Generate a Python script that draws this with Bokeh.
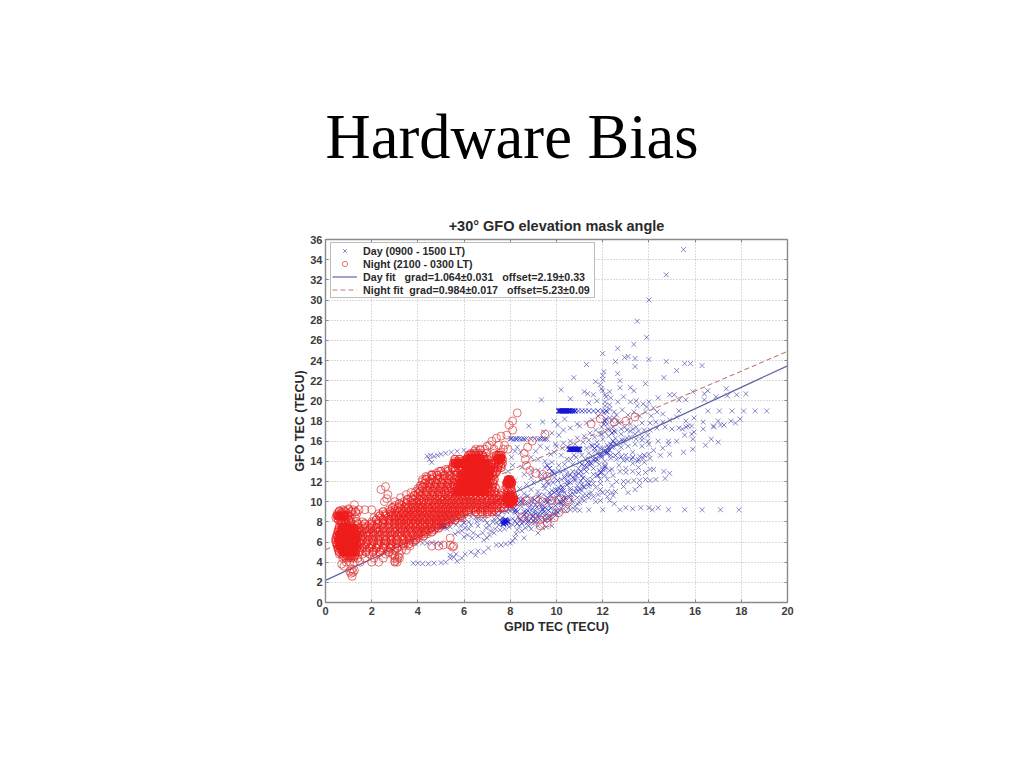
from bokeh.plotting import figure
from bokeh.models import Legend, LegendItem, LinearAxis, Range1d, FixedTicker, Title
from bokeh.embed import file_html
from bokeh.resources import INLINE

x_ticks = [0, 2, 4, 6, 8, 10, 12, 14, 16, 18, 20]
y_ticks = list(range(0, 37, 2))

fit_x = [0, 20]
day_fit_y = [2.19, 23.47]
night_fit_y = [5.23, 24.91]

day_sparse = [(15.5,35),(14.75,32.5),(14,30),(13.5,27.9),(13.9,26.3),(13.35,25.6),(12.65,25.2),(12,24.7),(12.55,23.9),(12.95,24.3),(13.1,24.4),(13.4,24.2),(14,24.1),(14.75,23.9),(15.55,23.7),(15.8,23.7),(16.3,23.5),(11.3,23.6),(13.4,23.4),(15.2,23),(10.75,22.3),(12.05,22.9),(12.0,22.5),(12.65,22.7),(14.65,22.3),(12.0,22.1),(12.75,22),(13.85,21.7),(11.7,21.9),(11.9,21.6),(11.95,21.2),(10.2,21.1),(11.2,20.9),(11.35,20.7),(11.6,20.6),(13.2,21.3),(13.35,21),(12.75,21.3),(12.3,20.9),(17.35,21.2),(16.55,21),(16.4,20.7),(16.9,20.4),(15.9,20.9),(17.4,20.5),(17.8,20.6),(18.2,20.7),(14.9,20.6),(15.1,20.6),(14.4,20.3),(16.4,20.1),(15.3,20.1),(15.6,20.1),(9.35,20.1),(10.6,20.2),(16.55,19),(17.05,19),(17.6,19),(18.1,19),(18.6,19),(19.1,19),(15.3,19),(16.35,17.9),(16.8,17.5),(17,18),(17.55,18),(17.95,18.2),(15.95,18.3),(15.6,18),(15.2,18.4),(14.9,18.1),(14.6,17.9),(14.3,17.9),(14.05,17.8),(16.35,17.2),(16.8,17.4),(17.1,17.6),(17.25,17.6),(17.75,17.8),(15.6,17.4),(15.7,17.5),(15.85,17.5),(15.45,17.2),(15.3,17.3),(15,17.2),(14.7,17.4),(14.35,17.3),(14.05,17.1),(16.45,15.6),(16.7,16.2),(17,15.9),(15.9,16.2),(15.55,16.6),(15.85,16.7),(15.95,16.9),(15.2,16),(14.85,16),(14.4,16),(14.6,15.3),(14.85,15.7),(15.9,15.2),(15.5,14.9),(14.9,14.7),(14.5,14.6),(14.2,13.2),(14.65,13),(14.9,12.8),(14.7,12.3),(14.3,12.2),(10.6,9.2),(10.8,9.2),(11,9.15),(11.4,9.2),(12,9.2),(12.75,9.2),(13,9.4),(13.3,9.3),(13.65,9.4),(14,9.4),(14.15,9.2),(14.4,9.4),(14.85,9.2),(15.55,9.2),(16.3,9.2),(17.1,9.2),(17.9,9.2),(12.5,9.8),(11.7,10),(11.9,10.1),(12.3,10.1),(12.45,10.6),(12.55,11),(12.4,11.6),(12.6,12),(12.9,12),(13.1,12),(13.35,12.1),(13.6,12.1),(13.85,12.2),(14.05,12.1),(13.6,11.6),(13.4,11.2),(13.1,10.9),(12.9,11.5),(9.8,7.6),(9.7,8.1),(9.2,6.9),(8.6,6.4)]
day_tracks = [(4.4,14.5),(4.5,14.2),(4.55,14.6),(4.7,14.5),(4.85,14.6),(5,14.7),(5.2,14.8),(5.45,14.9),(5.7,15),(6,15.1),(6.5,15.3),(4.6,13.9),(3.8,3.9),(4,3.9),(4.2,3.85),(4.45,3.85),(4.7,3.9),(5,3.95),(5.2,4),(5.4,4.4),(5.55,4.5),(5.7,4.1),(5.9,4.4),(6.05,4.8),(6.3,5),(6.5,4.7),(6.6,5.1),(6.85,5),(7.05,5.4),(5.4,4.7),(5.65,4.8),(3.9,5.8),(4.2,5.9),(4.4,5.9),(4.6,5.9),(4.8,5.9),(5,5.8),(7,6.4),(7.4,5.7),(7.6,5.7),(7.8,5.8),(8,5.9),(8.1,6.1),(8.2,6.4),(8.25,6.8),(8.3,7.2),(8.4,7.6),(8.6,8),(8.8,8.1),(4.8,7.4),(5,7.5),(5.1,7.7),(5.25,7.3),(5.3,7.9),(5.5,8.1),(5.6,6.8),(5.75,7),(5.9,7.1),(6,6.5),(6.2,7.3),(6.4,6.9),(6.6,7.6),(6.8,6.9),(6.2,8),(6.5,8.4),(6.9,8.2),(7.1,7.6),(7.25,8),(7.4,7.9),(7.5,7.7),(7.6,8),(7.55,8.2),(7.7,7.8),(7.65,8.4),(7.8,7.9),(7.85,9),(8,9.1),(8.1,9.2),(8.2,8.9),(8.9,8.3),(9,8.6),(9.1,8.3),(9.3,8.7),(9.5,8.6),(8,16.25),(8.15,16.2),(8.3,16.25),(8.5,16.2),(8.7,16.25),(8.9,16.2),(9.05,16.25),(9.2,16.2),(9.4,16.25),(9.6,16.2),(8.3,15.4),(8.45,14.9),(8.2,15),(8.05,14.4),(9.3,15.5),(9.6,15.3),(9.75,14.7),(9.2,14.2),(9.5,14),(8.9,13.1),(9.7,13.3),(9.95,15.7),(10.1,16.6),(10.3,17.1),(10.6,17.3),(10.9,17.7),(8.8,17.5),(9.4,17.9),(9.9,18),
(5.35,8.3),(5.6,8.4),(5.85,7.6),(6.05,7.4),(6.3,7.7),(6.55,8),(6.75,8.2),(6.95,7.4),(7.15,7.1),(7.35,7.3),(7.55,7.2),(7.75,7.3),(7.95,7.5),(8.1,7.7),(6.15,6.7),(6.35,6.4),(6.6,6.6),(6.85,6.2),(7.1,6.7),(7.3,6.9)]
day_bars = [(10.1,19),(10.15,19),(10.2,19),(10.25,19),(10.3,19),(10.35,19),(10.4,19),(10.45,19),(10.5,19),(10.55,19),(10.6,19),(10.7,19),(10.8,19),(10.55,15.2),(10.6,15.2),(10.65,15.2),(10.7,15.2),(10.75,15.2),(10.8,15.2),(10.85,15.2),(10.9,15.2),(10.95,15.2),(11,15.2),(7.7,8),(7.75,8.1),(7.8,8.2),(7.85,8.1),(7.9,8),(7.7,7.8),(7.8,7.9),(5,7.6),(5.05,7.55),(5.1,7.6),(5.15,7.65)]
day_streaks = [(10.95,19),(11.1,19),(11.25,19),(11.4,19),(11.6,19),(11.8,19),(12,19),(12.15,19),(9.6,13.6),(9.7,13.3),(9.8,13),(9.9,12.8),(8.2,9.1),(8.25,9.2),(8.3,9),(6,7.9),(12.2,14.9),(12.3,15.1),(12.15,14.8),(12.4,16.8),(12.5,17),(12.05,17.7),(12.1,18),(12.15,18.2),(8.05,16.25),(8.25,16.2),(8.4,16.25),(8.6,16.2),(9.3,16.25),(9.5,16.2),(11.55,15.5),(11.65,15.3),(11.75,15.5),(10.2,9.9),(10.3,10.1),(8.6,9),(8.7,8.9),(9.4,9.2),(9.5,9.4),(10.1,10.8),(10.2,11.1),(11.05,12.05),(11.15,12.35),(11.8,12.6),(11.9,12.85),(12,13.2),(12.1,13.45),(12.35,15.7),(12.45,16),
(8.9,9.7),(9.05,10.2),(9.25,10.6),(8.55,10.3),(8.75,10.55),(9.6,10.4),(9.75,10.65),(9.9,10.9),(10.05,11.15),(10.25,11.4),(10.45,11.65),(10.6,11.9),(10.8,12.1),(9.45,11.6),(9.65,11.75),(9.85,11.9),(10.05,12.1),(8.75,9.1),(8.95,9.3),(9.15,9.45),(9.35,9.75),(9.55,10.1),(9.75,9.35),(9.95,9.6),(10.15,9.95),(10.4,10.4),(10.6,10.7),(10.8,11),(11,11.25),(11.2,11.45),(11.4,11.75),(8.2,8.1),(8.45,8.2),(8.7,8.45),(8.95,8.55),(9.2,8.7),(9.45,8.95),(9.65,9.15),(8.3,7.8),(8.5,7.85),(8.75,7.95),(9,8.1),(9.25,8.35),(9.5,8.1),(9.7,8.45),(9.9,8.75),(10.05,8.95),(7.4,8.8),(7.65,9),(7.9,9.3),(8.1,9.5),(8.3,9.7),(8.5,9.9),(10.35,12.4),(10.6,12.65),(10.85,12.6),(11.05,13),(11.3,13.45),(11.5,13.8),(11.75,14.2),(11.95,14.55),(12.15,15),(12.4,15.4),(12.6,15.7),(12.85,16.1),(11.1,13.7),(11.35,13.9),(11.6,14.15),(11.85,14.6),(12.05,15),(12.25,15.35),(12.55,14.6),(12.8,14.45),(13.05,14.2),(13.3,14.4),(13.55,14.15),(13.8,14.6)]
day_core = [
(8.3,10.5),(8.6,10.8),(8.9,11.2),(9.2,11),(9.5,11.3),(9.8,11.1),(10.1,11.4),(10.3,11.1),(10.6,11.3),(10.9,11.6),(11.1,11.1),(11.4,11.5),(11.7,11.4),(11.9,11.8),
(8.5,9.5),(8.8,9.4),(9.1,9.7),(9.4,9.3),(9.7,9.6),(9.9,9.2),(10.2,9.7),(10.4,9.5),(10.7,10),(10.9,9.8),(11.1,10.3),(11.3,10.6),(11.5,10.9),
(9,8.9),(9.3,9),(9.6,8.8),(9.85,8.4),(10,8.7),(10.15,9.1),(10.35,9.8),(10.55,10.4),(10.75,10.7),(10.95,11),(11.15,11.5),(11.35,11.9),(11.55,12.2),(11.75,12.6),(11.95,12.9),
(8.4,11.3),(8.7,11.7),(9,11.9),(9.3,12.2),(9.6,12),(9.9,12.4),(10.2,12.2),(10.5,12.5),(10.8,12.3),(11.1,12.6),(11.3,13),(11.6,13.3),(11.85,13.7),(12.1,14),(12.35,14.3),
(8.6,12.7),(8.9,12.4),(9.2,13.1),(9.5,13.4),(9.8,13.9),(10.1,13.6),(10.4,13.2),(10.7,13.7),(11,13.9),(11.25,14.2),(11.55,14.5),(11.8,14.9),(12,15.3),(12.2,15.6),(12.5,15.8),
(9.9,14.9),(10.2,14.6),(10.45,14.2),(10.75,14.6),(11,15),(11.3,15.3),(11.5,15.6),(11.75,15.9),(12,16.2),(12.25,16.5),(12.55,16.3),(12.8,16.7),(13.05,16.3),
(10.3,15.8),(10.6,16),(10.9,16.3),(11.2,16.5),(11.45,16.8),(11.7,17.1),(11.95,17.4),(12.2,17.7),(12.45,17.4),(12.7,17.8),(12.95,17.4),(13.2,17.7),(13.45,17.4),(13.7,17.8),
(11,17.5),(11.3,17.8),(11.55,18.1),(11.8,18.5),(12.05,18.8),(12.3,19.2),(12.6,18.6),(12.85,19.1),(13.1,18.6),(13.35,18.9),(13.6,18.5),(13.85,18.9),(14.1,18.5),(14.35,18.9),(14.6,18.7),
(11.4,19.8),(11.75,20),(12.1,19.9),(12.35,20.3),(12.65,19.9),(12.9,20.4),(13.2,19.9),(13.45,20),(13.75,19.7),(14,19.9),(14.2,19.3),(13.9,19.4),(13.5,19.5),
(12.1,13.6),(12.4,13.2),(12.7,13.6),(13,13.3),(13.3,13.8),(13.55,13.4),(13.8,13.9),(14.05,14.3),(13.6,14.5),(13.3,14.9),(13,14.6),(12.7,14.9),(12.8,15.4),(13.1,15.5),(13.4,15.7),(13.7,15.5),(14,15.7),(14.2,15.1),
(12.2,12.2),(12.45,12.6),(12.2,11),(11.9,11.2),(11.6,11.8),(11.9,12.2),(12.1,12.6),(12.3,13.1),(13.7,16.4),(13.95,16.6),(13.4,16.7),(13.2,17),(12.9,15.9),(12.3,18.3),(12.5,18.9),(12.1,19.5),
(8,10.8),(7.6,10.4),(7.3,10),(7.8,11.5),(8.2,12.1),(8.5,13.4),(7.9,13),(8.1,13.6),(8.9,14.4),(9.1,15),(9.45,16.9),(9.8,16.8),(10.05,17.6),(10.35,18.2),(9.7,10.2),(10,10.4),(10.3,10.5),(10.5,11.9),(10.85,12.9),(11.4,14.8),(10.8,15.7),
]
day_extra = [
(7.9,9.6),(8.15,9.8),(8.4,9.9),(8.7,10),(8.95,10.3),(9.2,10.5),(9.45,10.7),(9.7,10.9),(9.95,11.2),(10.2,11.6),(10.45,12),(10.7,12.4),(10.95,12.8),(11.2,13.2),(11.45,13.6),(11.7,14),(11.95,14.4),(12.2,14.8),
(8.1,8.3),(8.35,8.5),(8.6,8.7),(8.85,8.9),(9.1,9.1),(9.35,9.5),(9.6,9.9),(9.85,10.3),(10.1,10.6),(10.35,10.9),(10.6,11.1),(10.85,11.3),(11.1,11.7),(11.35,12.2),(11.6,12.7),(11.85,13.1),(12.1,13.2),
(9.1,8),(9.3,8.2),(9.5,8.3),(9.65,8.5),(9.8,8.8),(10,9.1),(10.2,9.35),(10.4,9.1),(10.6,9.6),(10.8,9.5),(11,9.9),(11.2,10.1),(11.4,10.4),(11.6,10.5),(11.8,10.7),(12,10.9),(12.2,10.5),(12.4,10.9),
(8.9,10),(9.15,10),(9.4,10.1),(9.65,10),(9.9,10),(10.15,10.1),(10.4,10.2),(10.65,10.2),(10.9,10.4),(11.15,10.6),(11.4,10.8),
(10.2,12.9),(10.45,12.8),(10.7,13),(10.95,13.3),(11.2,13.5),(11.45,13.9),(11.7,14.3),(11.95,14.7),(12.2,15.2),(12.45,15.5),(12.7,15.9),(12.95,16.1),(13.2,16.4),(13.45,16.2),(13.7,16.1),(13.95,16),
(12.3,17.1),(12.55,16.9),(12.8,17.2),(13.05,17.1),(13.3,17.2),(13.55,17),(13.8,17.1),(11.95,16.7),(12.1,16.9),(12.25,17.2),(12.4,18),(12.5,18.3),(12.65,18),(12.2,18.9),(12.3,19.6),(12.15,20.4),(12.1,20.6),(12,21),
(13.25,14.2),(13.5,14),(13.75,14.3),(14,14.7),(12.9,14.1),(12.6,14.2),(12.35,14.6),(12.75,13),(13,12.9),(13.3,13),(13.55,12.8),(13.85,12.9),(14.05,13.2),
(9.35,12.7),(9.6,12.6),(9.85,12.9),(10.1,13.1),(10.35,13.7),(10.6,14.2),(10.85,14.4),(11.1,14.6),(11.35,14.3),(11.65,15),(11.9,15.3),(10,15.5),(10.25,15.3),(10.5,15.4),(11.15,15.9),(11.4,16.1),(11.65,16.4),(11.9,16.7),
(8.7,9.8),(8.45,10.1),(7.7,9.3),(7.95,9.9),(7.5,9.1),(7.2,8.9),(6.9,8.7),(6.6,8.4),(6.3,8.5),(5.95,8.2),(5.65,7.7),(5.4,7.5),(7,7.9),(7.3,8.3),(7.45,8.4),(8.4,8.3),(8.7,8.2),(8.55,8.6),(9.2,7.6),(9.4,7.4),(9.55,7.5),(9,7.8),(8.8,7.6),(8.65,7.4),(8.5,7.1),(8.9,7.3),(9.1,8.8)]

night_edges = [(1.25,9.7),(1,9.3),(0.8,9.1),(0.6,9.1),(0.7,8.9),(2.4,11.2),(2.6,11.5),(2.7,10.7),(2.65,10.3),(2.55,10),(3,10),(3.25,10.4),(3.5,10.7),(3.7,10.9),(3.9,11),(4,11.3),(4.1,11.6),(4.2,12.2),(4.35,12.5),(4.6,12.7),(4.9,13),(5.2,13.2),(5.5,13.3),(5.7,13.9),(5.9,14),(6.1,14.2),(6.3,14.7),(6.45,15),(6.7,15.1),(7,15.5),(7.2,16),(7.4,16.3),(7.6,16.5),(7.85,16.6),(7.95,17.6),(8.1,18),(8.3,18.8),(8.1,17.1),(8.6,14.8),(8.65,14.2),(8.7,13.6),(8.85,13.1),(9.1,12.8),(9.4,12.7),(9.6,12.5),(8.75,15.4),(8.95,16),(9.5,16.7),(4.6,5.6),(4.9,5.6),(5.1,5.7),(5.4,5.7),(5.5,5.5),(5.55,5.6),(5.4,6.4),(3,4.1),(3.1,4.3),(3,4.6),(3.15,4.5),(1.15,2.6),(1.1,2.9),(1.05,3.1),(1.2,3),(1.25,3.2),(1.15,3.3),(0.7,3.8),(0.8,3.6),(8.4,10),(8.7,10.1),(9.1,10.2),(9.4,10),(9.8,10.1),(10.1,10.2),(10.5,10.2),(8.5,8.5),(8.9,8.3),(9.3,8.2),(9.6,8.4),(9.3,7.6),(9.6,7.9),(9.9,8.4),(10.1,8.9),(10.4,9.3),(11.5,17.7),(11.9,18.2),(12.5,17.9),(13,18),(13.4,18.4)]
night_low = [
(4.0,[0.9,1.05,1.25,1.5,2.0,2.3,3.0,3.1]),
(4.4,[0.75,0.9,1.0,1.1,1.2,1.4,1.7,2.1,2.5,3.0,3.2]),
(4.8,[0.6,0.7,0.85,1.0,1.1,1.3,1.6,1.9,2.2,2.6,2.9,3.2]),
(5.2,[0.55,0.7,0.8,0.95,1.1,1.2,1.5,1.8,2.1,2.4,2.7,3.0,3.3,3.5]),
(5.6,[0.5,0.6,0.75,0.9,1.0,1.2,1.4,1.7,2.0,2.3,2.6,2.85,3.15,3.4,3.65]),
(6.0,[0.45,0.6,0.7,0.85,1.0,1.1,1.3,1.55,1.8,2.1,2.4,2.65,2.95,3.2,3.5,3.8]),
(6.4,[0.45,0.55,0.7,0.8,0.95,1.1,1.2,1.45,1.7,2.0,2.25,2.5,2.8,3.05,3.35,3.6,3.85,4.05]),
(6.8,[0.5,0.65,0.75,0.9,1.0,1.15,1.3,1.5,1.75,1.95,2.2,2.45,2.7,2.95,3.2,3.5,3.75,4.0,4.2,4.4]),
(7.2,[0.55,0.7,0.85,1.0,1.1,1.25,1.45,1.7,1.9,2.15,2.35,2.6,2.9,3.1,3.35,3.6,3.85,4.05,4.3,4.5,4.7]),
]
night_mid = [
(7.6,[0.6,0.8,0.95,1.1,1.3,1.6,1.85,2.1,2.4,2.65,2.9,3.15,3.4,3.6,3.8,4.0,4.2,4.4,4.6,4.8,5.0]),
(8.0,[0.65,0.8,1.1,1.35,1.6,2.0,2.3,2.55,2.8,3.0,3.25,3.5,3.7,3.9,4.1,4.3,4.55,4.8,5.0,5.2,5.35]),
(8.4,[0.45,0.6,0.75,0.9,1.05,1.3,2.1,2.4,2.7,2.95,3.2,3.4,3.6,3.85,4.05,4.25,4.5,4.7,4.95,5.1,5.3,5.5,5.7,5.9]),
(8.8,[0.5,0.65,0.8,0.95,1.15,1.35,2.3,2.6,2.85,3.1,3.35,3.55,3.8,3.95,4.2,4.4,4.65,4.85,5.05,5.25,5.4,5.6,5.8,6.0,6.6,6.8,7.0]),
(9.2,[0.75,1.0,1.2,1.45,1.7,2.0,2.75,3.0,3.25,3.5,3.7,3.85,4.1,4.3,4.5,4.75,5.0,5.2,5.4,5.6,5.8,6.0,6.2,6.4,6.6,6.8,7.0,7.2]),
(9.6,[3.0,3.3,3.55,3.8,4.0,4.2,4.45,4.7,4.9,5.1,5.35,5.55,5.75,5.95,6.15,6.35,6.55,6.8,7.0,7.2,7.4]),
(10.0,[3.4,3.7,3.95,4.15,4.35,4.6,4.85,5.05,5.3,5.5,5.7,5.9,6.1,6.3,6.55,6.75,7.0,7.2,7.4,7.6,7.8,8.0,8.1]),
(10.4,[3.7,3.95,4.2,4.45,4.7,4.95,5.15,5.4,5.6,5.85,6.05,6.25,6.5,6.7,6.95,7.15,7.35,7.55,7.75,7.95,8.15]),
(10.8,[4.0,4.25,4.5,4.75,5.0,5.2,5.45,5.65,5.9,6.1,6.3,6.5,6.7,6.95,7.15,7.35,7.65,7.85,8.0]),
]
night_high = [
(11.2,[4.05,4.35,4.6,4.85,5.1,5.3,5.5,5.75,5.95,6.15,6.35,6.55,6.75,7.0,7.2,7.75,7.95,8.05]),
(11.6,[4.15,4.4,4.7,4.95,5.2,5.4,5.6,5.85,6.05,6.25,6.45,6.65,6.85,7.05,7.25]),
(12.0,[4.2,4.5,4.75,5.0,5.25,5.5,5.7,5.9,6.1,6.3,6.5,6.7,6.9,7.1,7.25]),
(12.4,[4.4,4.65,4.95,5.25,5.5,5.75,5.95,6.15,6.35,6.55,6.75,6.95,7.15]),
(12.8,[4.8,5.1,5.4,5.7,5.95,6.2,6.4,6.6,6.8,7.0,7.2,7.35]),
(13.2,[5.3,5.6,5.9,6.1,6.3,6.5,6.7,6.9,7.1,7.3,7.45]),
(13.6,[5.7,5.85,6.05,6.25,6.45,6.65,6.85,7.05,7.25,7.5,7.6]),
(14.0,[5.6,5.75,5.9,6.05,6.2,6.4,6.6,6.8,6.95,7.15,7.4,7.6]),
(14.4,[6.15,6.3,6.45,6.65,6.85,7.1,7.4,7.6]),
(14.8,[6.3,6.45,6.6,6.75,6.95,7.3,7.55]),
(15.2,[6.5,6.7,6.9,7.3,7.7,7.9]),
(15.6,[7.1,7.5,7.75]),
]
night_fill_low = [
(4.6,[0.8,0.95,1.05,1.15,1.25]),
(5.0,[0.6,0.75,0.9,1.05,1.15,1.3,1.45,1.75,2.05,2.35,2.75]),
(5.4,[0.55,0.65,0.8,0.95,1.05,1.2,1.35,1.6,1.9,2.2,2.5,2.8,3.1]),
(5.8,[0.5,0.65,0.8,0.95,1.05,1.2,1.35,1.5,1.75,2.0,2.25,2.55,2.8,3.05,3.35,3.6]),
(6.2,[0.45,0.6,0.75,0.9,1.05,1.2,1.35,1.6,1.85,2.05,2.3,2.6,2.85,3.1,3.4,3.65,3.9]),
(6.6,[0.5,0.65,0.8,0.95,1.05,1.2,1.4,1.6,1.85,2.1,2.35,2.6,2.85,3.1,3.3,3.55,3.8,4.0,4.25]),
(7.0,[0.55,0.7,0.85,1.0,1.15,1.35,1.55,1.8,2.05,2.3,2.55,2.8,3.0,3.25,3.45,3.7,3.95,4.15,4.35,4.6]),
(7.4,[0.6,0.75,0.9,1.05,1.2,1.45,1.7,1.95,2.2,2.5,2.75,3.0,3.25,3.45,3.65,3.9,4.1,4.3,4.55,4.75,4.9]),
]
night_fill_mid = [
(7.8,[0.7,0.9,1.1,1.4,1.7,2.0,2.25,2.5,2.75,3.0,3.2,3.4,3.6,3.8,4.0,4.2,4.4,4.6,4.8,5.0,5.2]),
(8.2,[0.55,0.7,0.85,1.0,2.2,2.5,2.75,3.0,3.2,3.4,3.6,3.8,4.0,4.2,4.4,4.6,4.8,5.0,5.2,5.4,5.6]),
(8.6,[0.5,0.65,0.8,0.95,2.35,2.6,2.85,3.05,3.25,3.45,3.65,3.85,4.05,4.25,4.45,4.65,4.85,5.05,5.25,5.45,5.65,5.85]),
(9.0,[0.6,0.85,1.1,1.3,2.5,2.8,3.0,3.2,3.4,3.6,3.8,4.0,4.2,4.4,4.6,4.8,5.0,5.2,5.4,5.6,5.8,6.0,6.2,6.5,6.75,7.0,7.2,7.4]),
(9.4,[2.9,3.15,3.4,3.6,3.8,4.0,4.2,4.4,4.6,4.8,5.0,5.2,5.4,5.6,5.8,6.0,6.2,6.4,6.6,6.8,7.0,7.2,7.4,7.6,7.75]),
(9.8,[3.2,3.5,3.75,3.95,4.15,4.35,4.55,4.75,4.95,5.15,5.35,5.55,5.75,5.95,6.15,6.35,6.55,6.75,6.95,7.15,7.35,7.55,7.75,7.95,8.1]),
(10.2,[3.55,3.8,4.05,4.25,4.5,4.75,4.95,5.15,5.35,5.55,5.75,5.95,6.1,6.3,6.5,6.7,6.9,7.1,7.3,7.5,7.7,7.85,8.0,8.15]),
(10.6,[3.85,4.1,4.35,4.6,4.85,5.05,5.3,5.5,5.7,5.9,6.05,6.2,6.4,6.6,6.8,7.0,7.2,7.4,7.6,7.85,8.0,8.1]),
]
night_fill_high = [
(11.0,[4.1,4.4,4.65,4.9,5.15,5.35,5.6,5.8,5.95,6.1,6.25,6.4,6.55,6.7,6.85,7.0,7.15,7.3,7.9,8.05]),
(11.4,[4.2,4.5,4.75,5.0,5.25,5.45,5.7,5.85,6.0,6.15,6.3,6.45,6.6,6.75,6.9,7.05,7.2,7.35,7.85,8.0]),
(11.8,[4.3,4.55,4.8,5.05,5.3,5.55,5.75,5.9,6.05,6.2,6.35,6.5,6.65,6.8,6.95,7.1,7.25,7.85,7.95,8.05]),
(12.2,[4.35,4.6,4.85,5.1,5.35,5.6,5.8,5.95,6.1,6.25,6.4,6.55,6.7,6.85,7.0,7.15,7.3]),
(12.6,[4.6,4.85,5.15,5.4,5.65,5.85,6.05,6.2,6.35,6.5,6.65,6.8,6.95,7.1,7.25]),
(13.0,[5.0,5.3,5.6,5.85,6.05,6.2,6.35,6.5,6.65,6.8,6.95,7.1,7.25,7.4]),
(13.4,[5.5,5.75,5.95,6.1,6.25,6.4,6.55,6.7,6.85,7.0,7.15,7.3,7.45,7.6]),
(13.8,[5.55,5.7,5.85,6.0,6.15,6.3,6.45,6.6,6.75,6.9,7.05,7.2,7.35,7.5,7.65]),
(14.2,[5.6,5.8,6.1,6.25,6.4,6.55,6.7,6.85,7.0,7.45,7.55,7.65]),
(14.6,[6.2,6.35,6.5,6.65,6.8,7.4,7.5,7.6]),
]
night_solid = [
(5.0,[0.75,0.85,0.95,1.05,1.15,1.25]),(5.6,[0.6,0.7,0.8,0.9,1.0,1.1,1.2,1.3]),(6.2,[0.55,0.65,0.75,0.85,0.95,1.05,1.15,1.3]),(6.8,[0.6,0.7,0.8,0.9,1.0,1.1,1.2,1.35]),(7.4,[0.7,0.8,0.9,1.0,1.1,1.25]),
(8.6,[0.55,0.7,0.85]),
(10.2,[7.85,7.95,8.05,8.15]),(9.9,[7.95,8.05]),(10.5,[7.9,8.0]),(11.9,[7.85,7.95,8.05]),(12.2,[7.9,8.0]),
(11.0,[5.7,5.85,6.0,6.15,6.3,6.45,6.6,6.75,6.9]),(11.8,[5.8,5.95,6.1,6.25,6.4,6.55,6.7,6.85,7.0]),(12.6,[5.9,6.05,6.2,6.35,6.5,6.65,6.8,6.95,7.1]),(13.2,[6.1,6.25,6.4,6.55,6.7,6.85,7.0,7.15]),(13.8,[5.6,5.75,5.9,6.05,6.2,6.35,6.5,6.65,6.8,6.95]),(14.3,[6.2,6.35,6.5,6.65,7.45,7.6]),
]

def pairs(group):
    return [a for a, _ in group], [b for _, b in group]

def rows(table):
    return [x for _, xs in table for x in xs], [y for y, xs in table for _ in xs]

W, H = 1008, 752
p = figure(width=W, height=H, output_backend="svg", toolbar_location=None,
           x_range=Range1d(0, 20), y_range=Range1d(0, 36),
           min_border_left=325, min_border_right=221, min_border_top=239, min_border_bottom=150,
           background_fill_color="white", border_fill_color="white",
           x_axis_label="GPID TEC (TECU)", y_axis_label="GFO TEC (TECU)")
p.outline_line_color = "#8a8a8a"

for ax, ticks in ((p.xaxis[0], x_ticks), (p.yaxis[0], y_ticks)):
    ax.ticker = FixedTicker(ticks=ticks)
    ax.major_tick_in, ax.major_tick_out = 3, 0
    ax.minor_tick_line_color = None
    ax.axis_line_color = "#8a8a8a"
    ax.axis_line_width = 1.4
    ax.major_tick_line_color = "#8a8a8a"
    ax.major_label_text_font = "Liberation Sans"
    ax.major_label_text_font_style = "bold"
    ax.major_label_text_font_size = "11px"
    ax.major_label_text_color = "#3c3c3c"
    ax.axis_label_text_font = "Liberation Sans"
    ax.axis_label_text_font_style = "bold"
    ax.axis_label_text_font_size = "12.5px"
    ax.axis_label_text_color = "#2a2a2a"
p.xaxis[0].major_label_standoff = 4
p.yaxis[0].major_label_standoff = 3
p.xaxis[0].axis_label_standoff = 2
p.yaxis[0].axis_label_standoff = 0

for side, ticks in (("right", y_ticks), ("above", x_ticks)):
    a = LinearAxis(ticker=FixedTicker(ticks=ticks), major_tick_in=3, major_tick_out=0,
                   minor_tick_line_color=None, axis_line_color="#8a8a8a", axis_line_width=1.4,
                   major_tick_line_color="#8a8a8a", major_label_text_font_size="0px",
                   major_label_text_color=None)
    p.add_layout(a, side)

p.xgrid.ticker = FixedTicker(ticks=x_ticks)
p.ygrid.ticker = FixedTicker(ticks=y_ticks)
p.grid.grid_line_color = "#b8b8b8"
p.grid.grid_line_dash = "1 2"
p.grid.grid_line_width = 1

dx, dy = [], []
for group in (day_sparse, day_tracks, day_core, day_extra):
    a, b = pairs(group)
    dx += a
    dy += b
r_day = p.scatter(dx, dy, marker="x", size=7, line_color="#3d3fa8", line_alpha=0.62, line_width=1)
a, b = pairs(day_streaks)
p.scatter(a, b, marker="x", size=7, line_color="#2525c8", line_alpha=0.75, line_width=1)
a, b = pairs(day_bars)
p.scatter(a, b, marker="x", size=7, line_color="#1414d8", line_alpha=0.9, line_width=1.3)

l_day = p.line(fit_x, day_fit_y, line_color="#5f64a8", line_width=1.2)
l_night = p.line(fit_x, night_fit_y, line_color="#bd7c7c", line_width=1.1, line_dash="5 3")

nx, ny = pairs(night_edges)
for t in (night_low, night_mid, night_high):
    a, b = rows(t)
    nx += a
    ny += b
r_night = p.scatter(nx, ny, marker="circle", size=8, fill_color=None, line_color="#dc3a3a",
                    line_alpha=0.7, line_width=1)
fx, fy = [], []
for t in (night_fill_low, night_fill_mid, night_fill_high):
    a, b = rows(t)
    fx += a
    fy += b
p.scatter(fx, fy, marker="circle", size=8, fill_color=None, line_color="#ee1c1c",
          line_alpha=0.85, line_width=1.2)
a, b = rows(night_solid)
p.scatter(a, b, marker="circle", size=8, fill_color="#ee1c1c", fill_alpha=0.85,
          line_color="#ee1c1c", line_alpha=0.9, line_width=1)

legend = Legend(items=[
    LegendItem(label="Day (0900 - 1500 LT)", renderers=[r_day]),
    LegendItem(label="Night (2100 - 0300 LT)", renderers=[r_night]),
    LegendItem(label="Day fit   grad=1.064\u00b10.031   offset=2.19\u00b10.33", renderers=[l_day]),
    LegendItem(label="Night fit  grad=0.984\u00b10.017   offset=5.23\u00b10.09\u00a0", renderers=[l_night]),
], location=(5, 304), orientation="vertical", label_text_font="Liberation Sans",
    label_text_font_style="bold", label_text_font_size="10.7px", label_text_color="#2a2a2a",
    label_height=13, glyph_height=13, glyph_width=25, spacing=0, padding=1, margin=0,
    label_standoff=6, border_line_color="#7a7a7a", border_line_width=1.5,
    background_fill_color="white", background_fill_alpha=1)
p.add_layout(legend, "center")

p.add_layout(Title(text="+30\u00b0 GFO elevation mask angle", align="center",
                   text_font="Liberation Sans", text_font_style="bold", text_font_size="14.5px",
                   text_color="#2a2a2a", standoff=12), "above")
p.add_layout(Title(text="Hardware Bias", align="left", offset=0,
                   text_font="Liberation Serif", text_font_style="normal", text_font_size="62.5px",
                   text_color="black", standoff=76), "above")

open("out.html", "w").write(file_html(p, INLINE))
